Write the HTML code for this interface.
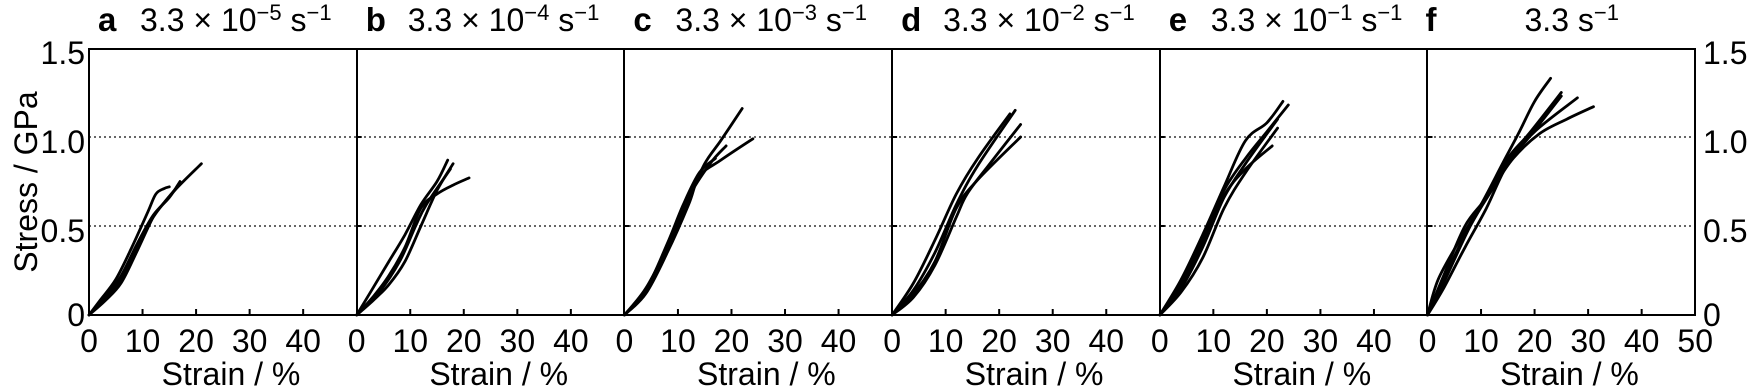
<!DOCTYPE html>
<html><head><meta charset="utf-8"><style>
html,body{margin:0;padding:0;background:#fff;}
svg{display:block;font-family:"Liberation Sans",sans-serif;}
</style></head><body>
<svg width="1748" height="388" viewBox="0 0 1748 388" xmlns="http://www.w3.org/2000/svg">
<defs>
<style>
.c{fill:none;stroke:#000;stroke-width:2.8;stroke-linejoin:round;stroke-linecap:round}
.t{font-size:32px;fill:#000}
.b{font-size:33px;font-weight:bold;fill:#000}
</style>
</defs>
<line x1="89" y1="226" x2="1695" y2="226" stroke="#666" stroke-width="2" stroke-dasharray="2,3"/>
<line x1="89" y1="137" x2="1695" y2="137" stroke="#666" stroke-width="2" stroke-dasharray="2,3"/>
<rect x="89" y="49" width="1606" height="266" fill="none" stroke="#000" stroke-width="2"/>
<g stroke="#000" stroke-width="2">
<line x1="357" y1="49" x2="357" y2="315"/><line x1="624" y1="49" x2="624" y2="315"/>
<line x1="892" y1="49" x2="892" y2="315"/><line x1="1160" y1="49" x2="1160" y2="315"/>
<line x1="1427" y1="49" x2="1427" y2="315"/>
</g>
<g id="ticks" stroke="#000" stroke-width="2"></g>
<g id="curves"></g>
<g id="labels"></g>
<text class="t" transform="translate(37,182) rotate(-90)" text-anchor="middle">Stress / GPa</text>
<text class="t" x="85" y="64" text-anchor="end">1.5</text>
<text class="t" x="85" y="153" text-anchor="end">1.0</text>
<text class="t" x="85" y="242" text-anchor="end">0.5</text>
<text class="t" x="85" y="326" text-anchor="end">0</text>
<text class="t" x="1703" y="64">1.5</text>
<text class="t" x="1703" y="153">1.0</text>
<text class="t" x="1703" y="242">0.5</text>
<text class="t" x="1703" y="326">0</text>
</svg>
<script>
var NS="http://www.w3.org/2000/svg";
var ticks=document.getElementById('ticks'),cur=document.getElementById('curves'),lab=document.getElementById('labels');
var W=267.7,X0=89,Y0=315,SX=5.354,SY=178;
function el(t,a,p,txt){var e=document.createElementNS(NS,t);for(var k in a)e.setAttribute(k,a[k]);if(txt!=null)e.textContent=txt;p.appendChild(e);return e;}
function smooth(P){var d="M"+P[0][0].toFixed(1)+","+P[0][1].toFixed(1);
 for(var i=0;i<P.length-1;i++){var p0=P[i-1]||P[i],p1=P[i],p2=P[i+1],p3=P[i+2]||p2;
  var c1=[p1[0]+(p2[0]-p0[0])/6,p1[1]+(p2[1]-p0[1])/6],c2=[p2[0]-(p3[0]-p1[0])/6,p2[1]-(p3[1]-p1[1])/6];
  d+=" C"+c1[0].toFixed(1)+","+c1[1].toFixed(1)+" "+c2[0].toFixed(1)+","+c2[1].toFixed(1)+" "+p2[0].toFixed(1)+","+p2[1].toFixed(1);}
 return d;}
var titles=[["a","3.3 × 10","−5"],["b","3.3 × 10","−4"],["c","3.3 × 10","−3"],["d","3.3 × 10","−2"],["e","3.3 × 10","−1"],["f","3.3",""]];
var data=[
[[[0,0],[2,0.08],[5,0.2],[8,0.38],[11,0.58],[12.5,0.68],[14,0.71],[15,0.72]],
 [[0,0],[3,0.1],[6,0.22],[9,0.4],[12,0.56],[15,0.66],[17,0.75]],
 [[0,0],[3,0.09],[6,0.2],[9,0.38],[12,0.55],[16,0.7],[21,0.85]],
 [[0,0],[3,0.08],[6,0.18],[9,0.36],[12,0.55],[14,0.63],[16.5,0.72]]],
[[[0,0],[3,0.15],[6,0.3],[9,0.45],[12,0.62],[15,0.75],[17,0.87]],
 [[0,0],[3,0.1],[6,0.22],[9,0.38],[12,0.6],[15,0.68],[18,0.73],[21,0.77]],
 [[0,0],[3,0.08],[6,0.17],[9,0.3],[12,0.5],[15,0.7],[18,0.85]],
 [[0,0],[4,0.12],[8,0.3],[11,0.5],[13,0.62],[17.5,0.82]]],
[[[0,0],[4,0.15],[8,0.38],[12,0.65],[15,0.85],[18,0.98],[22,1.16]],
 [[0,0],[4,0.12],[8,0.35],[12,0.62],[14,0.78],[18,0.87],[24,0.99]],
 [[0,0],[4,0.13],[8,0.36],[12,0.66],[16,0.85],[19,0.95]],
 [[0,0],[4,0.14],[8,0.4],[11,0.62],[14,0.8],[17,0.88]]],
[[[0,0],[4,0.18],[8,0.42],[12,0.68],[16,0.88],[22,1.13]],
 [[0,0],[4,0.14],[8,0.35],[12,0.62],[16,0.84],[23,1.15]],
 [[0,0],[4,0.1],[8,0.28],[12,0.55],[14,0.68],[18,0.84],[24,1.07]],
 [[0,0],[4,0.12],[8,0.3],[12,0.6],[16,0.76],[24,1.0]]],
[[[0,0],[4,0.2],[8,0.45],[12,0.72],[16,0.98],[20,1.08],[23,1.2]],
 [[0,0],[4,0.18],[8,0.42],[12,0.7],[16,0.88],[20,1.03],[24,1.18]],
 [[0,0],[4,0.15],[8,0.38],[12,0.66],[16,0.85],[22,1.1]],
 [[0,0],[4,0.13],[8,0.32],[12,0.6],[16,0.8],[22,1.05]],
 [[0,0],[4,0.16],[8,0.4],[12,0.67],[16,0.82],[21,0.95]]],
[[[0,0],[2,0.2],[6,0.42],[10,0.62],[14,0.85],[17,1.02],[20,1.2],[23,1.33]],
 [[0,0],[3,0.22],[7,0.5],[11,0.66],[15,0.86],[19,1.0],[25,1.23]],
 [[0,0],[3,0.18],[8,0.5],[12,0.7],[16,0.88],[21,1.02],[26,1.1],[31,1.17]],
 [[0,0],[3,0.15],[7,0.38],[11,0.6],[15,0.85],[20,1.03],[28,1.22]],
 [[0,0],[3,0.2],[7,0.45],[11,0.66],[15,0.88],[19,1.02],[25,1.25]]]
];
for(var p=0;p<6;p++){
 var x0=X0+W*p;
 for(var s=0;s<=5;s++){var x=x0+s*10*SX;
  if(s>0&&s<5)el('line',{x1:x,y1:Y0,x2:x,y2:Y0-6},ticks);
  if(s<5||p==5)el('text',{'class':'t',x:x,y:352,'text-anchor':'middle'},lab,String(s*10));}
 if(p>0){el('line',{x1:x0,y1:137,x2:x0+5,y2:137},ticks);el('line',{x1:x0,y1:226,x2:x0+5,y2:226},ticks);}
 el('text',{'class':'t',x:x0+142,y:385,'text-anchor':'middle'},lab,"Strain / %");
 var tt=titles[p];
 el('text',{'class':'b',x:x0+(p==5?-2:9),y:31},lab,tt[0]);
 var t=el('text',{'class':'t',x:x0+(p==5?97:51),y:31},lab);
 var ts=document.createElementNS(NS,'tspan');ts.textContent=tt[1];t.appendChild(ts);
 if(tt[2]){el('tspan',{dy:-11,'font-size':'22'},t,tt[2]);el('tspan',{dy:11},t," s");}
 else{el('tspan',{},t," s");}
 el('tspan',{dy:-11,'font-size':'22'},t,"−1");
 data[p].forEach(function(c){
  el('path',{'class':'c',d:smooth(c.map(function(q){return [x0+q[0]*SX,Y0-q[1]*SY]}))},cur);
 });
}
</script>
</body></html>
